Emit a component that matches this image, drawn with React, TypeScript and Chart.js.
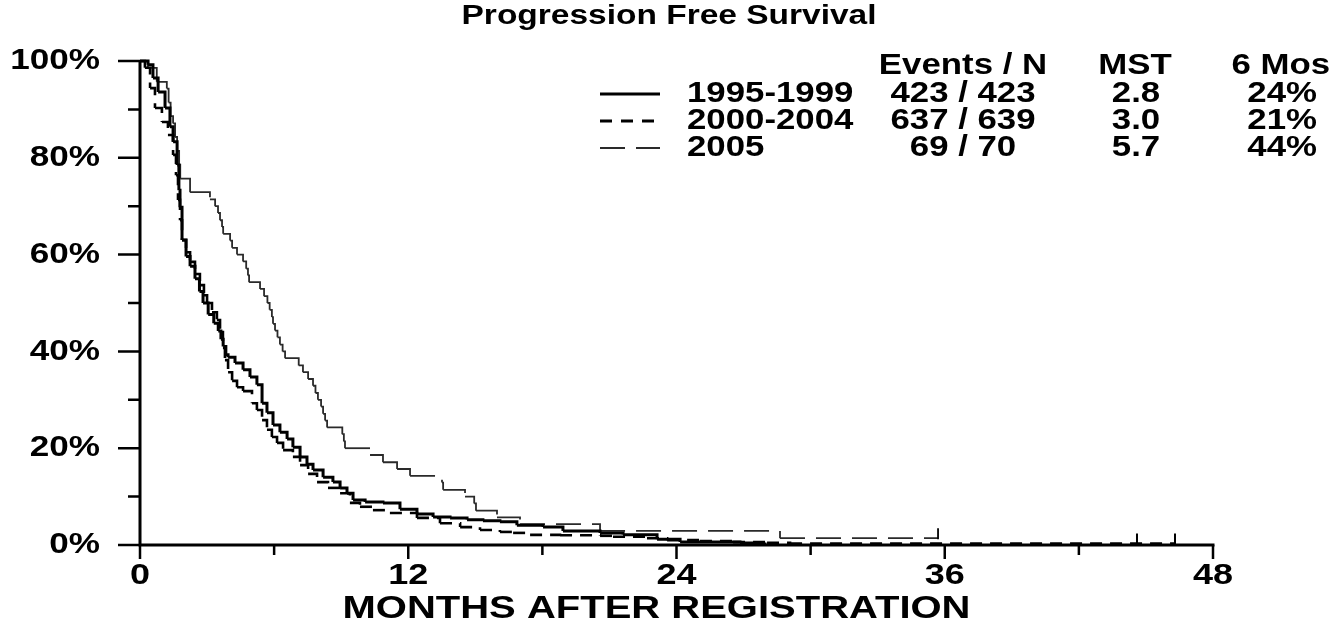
import React, { useEffect, useRef } from 'react';
import { Chart, registerables } from 'chart.js';

Chart.register(...registerables);

// ---------- data ----------
const chartTitle = 'Progression Free Survival';
const xAxisTitle = 'MONTHS AFTER REGISTRATION';

const seriesNames = ['1995-1999', '2000-2004', '2005'];
const tableHeaders = ['Events / N', 'MST', '6 Mos'];
const eventsN = ['423 / 423', '637 / 639', '69 / 70'];
const mstValues = ['2.8', '3.0', '5.7'];
const sixMonthValues = ['24%', '21%', '44%'];

const xTickValues = [0, 12, 24, 36, 48];
const xTickLabels = ['0', '12', '24', '36', '48'];
const xMinorTicks = [6, 18, 30, 42];
const yTickValues = [0, 20, 40, 60, 80, 100];
const yTickLabels = ['0%', '20%', '40%', '60%', '80%', '100%'];
const yMinorTicks = [10, 30, 50, 70, 90];

const months1995 = [0, 0.36, 0.58, 0.81, 1.12, 1.34, 1.48, 1.66, 1.74, 1.79, 1.88, 2.06, 2.24, 2.46, 2.66, 2.82, 3.05, 3.30, 3.50, 3.62, 3.72, 3.84, 3.94, 4.25, 4.61, 4.92, 5.23, 5.46, 5.68, 5.95, 6.26, 6.58, 6.84, 7.16, 7.47, 7.74, 8.19, 8.63, 8.95, 9.26, 9.53, 10.07, 10.87, 11.63, 12.39, 13.11, 13.87, 14.63, 15.34, 16.10, 16.86, 18.03, 18.92, 20.58, 21.61, 23.13, 24.16, 26.84, 27.74, 27.96];
const surv1995 = [100, 99.2, 96.5, 93.6, 90.3, 86.4, 83.3, 78.5, 73.3, 69.8, 63.0, 59.6, 57.6, 55.0, 52.4, 50.0, 47.6, 45.8, 44.2, 42.5, 41.0, 39.3, 38.8, 37.6, 36.2, 34.7, 33.1, 29.3, 27.3, 24.8, 23.3, 21.9, 20.2, 18.2, 16.7, 15.5, 14.0, 13.0, 11.8, 10.7, 9.3, 8.9, 8.7, 7.4, 6.4, 5.8, 5.6, 5.2, 5.0, 4.8, 4.1, 3.7, 2.9, 2.5, 2.1, 1.2, 0.6, 0.4, 0.2, 0];

const months2000 = [0, 0.22, 0.45, 0.67, 0.98, 1.25, 1.48, 1.61, 1.70, 1.79, 1.88, 2.06, 2.24, 2.46, 2.68, 2.86, 3.00, 3.22, 3.44, 3.58, 3.71, 3.80, 3.94, 4.12, 4.34, 4.61, 5.01, 5.23, 5.46, 5.68, 5.90, 6.13, 6.40, 6.84, 7.16, 7.52, 7.92, 8.41, 8.95, 9.39, 9.84, 10.42, 11.18, 12.39, 13.42, 14.32, 15.21, 16.10, 16.69, 17.45, 18.79, 20.58, 21.16, 22.68, 23.58, 25.05, 26.53, 28.05, 29.08, 46.3];
const surv2000 = [100, 98.6, 94.4, 90.3, 87.4, 84.7, 80.6, 76.4, 71.3, 67.1, 63.0, 60.5, 58.5, 56.0, 53.7, 51.6, 50.0, 48.1, 46.5, 44.0, 40.7, 38.2, 35.7, 33.9, 32.6, 31.8, 29.3, 27.9, 25.8, 23.8, 22.3, 21.1, 19.6, 18.2, 16.5, 14.7, 13.0, 11.8, 10.7, 8.7, 7.9, 7.2, 6.6, 5.6, 4.5, 3.7, 3.1, 2.7, 2.5, 2.1, 2.0, 1.9, 1.7, 1.4, 1.0, 0.8, 0.6, 0.47, 0.31, 0.31];

const months2005 = [0, 0.35, 0.75, 1.20, 1.28, 1.37, 1.48, 1.57, 1.66, 1.75, 1.80, 2.24, 3.13, 3.36, 3.49, 3.58, 3.67, 3.72, 4.03, 4.12, 4.34, 4.61, 4.75, 4.83, 4.88, 5.37, 5.55, 5.70, 5.80, 5.90, 5.95, 6.04, 6.15, 6.26, 6.38, 6.49, 7.10, 7.29, 7.52, 7.74, 7.85, 7.96, 8.10, 8.19, 8.28, 8.37, 9.05, 9.12, 9.17, 10.29, 10.87, 11.50, 12.08, 13.51, 13.56, 14.54, 14.95, 15.03, 15.97, 17.00, 20.58, 28.63, 35.70];
const surv2005 = [100, 98.6, 95.7, 94.3, 91.4, 88.6, 87.1, 84.3, 81.4, 78.6, 75.7, 72.9, 71.4, 70.0, 68.6, 67.1, 65.7, 64.3, 62.9, 61.4, 60.0, 58.6, 57.1, 55.7, 54.3, 52.9, 51.4, 50.0, 48.6, 47.1, 45.7, 44.3, 42.9, 41.4, 40.0, 38.6, 37.1, 35.7, 34.3, 32.9, 31.4, 30.0, 28.6, 27.1, 25.7, 24.3, 22.9, 21.4, 20.0, 18.6, 17.1, 15.7, 14.3, 12.9, 11.4, 10.0, 8.6, 7.1, 5.7, 4.3, 2.9, 1.4, 1.4];

const censorMonths2000 = [44.6, 46.3];
const censorSurv2000 = [0.31, 0.31];
const censorMonths2005 = [35.7];
const censorSurv2005 = [1.4];

// ---------- styles ----------
const FONT = '"Liberation Sans", Arial, Helvetica, sans-serif';
const lineStyles = [
  { width: 3, dash: [] as number[], color: '#000000', legendWidth: 3 },
  { width: 2.6, dash: [12, 8], color: '#000000', legendWidth: 3 },
  { width: 1.8, dash: [25, 11], color: '#2a2a2a', legendWidth: 2 },
];

function toPoints(xs: number[], ys: number[]) {
  return xs.map((x, i) => ({ x, y: ys[i] }));
}

function stretchText(
  ctx: CanvasRenderingContext2D,
  text: string,
  x: number,
  y: number,
  size: number,
  sx: number,
  align: CanvasTextAlign
) {
  ctx.save();
  ctx.translate(x, y);
  ctx.scale(sx, 1);
  ctx.font = `bold ${size}px ${FONT}`;
  ctx.textAlign = align;
  ctx.textBaseline = 'middle';
  ctx.fillStyle = '#000';
  ctx.fillText(text, 0, 0);
  ctx.restore();
}

const decorPlugin = {
  id: 'survDecor',
  beforeDatasetsDraw(chart: any) {
    const { ctx, chartArea, scales } = chart;
    const xs = scales.x;
    const ys = scales.y;
    ctx.save();
    ctx.strokeStyle = '#000';
    ctx.lineCap = 'butt';
    ctx.lineWidth = 3;
    ctx.setLineDash([]);
    ctx.beginPath();
    ctx.moveTo(chartArea.left, ys.getPixelForValue(100));
    ctx.lineTo(chartArea.left, ys.getPixelForValue(0) + 1.5);
    ctx.moveTo(xs.getPixelForValue(0), ys.getPixelForValue(0));
    ctx.lineTo(xs.getPixelForValue(48) + 1.5, ys.getPixelForValue(0));
    ctx.stroke();
    ctx.lineWidth = 2.5;
    ctx.beginPath();
    yTickValues.forEach((v) => {
      const py = ys.getPixelForValue(v);
      ctx.moveTo(chartArea.left - 22, py);
      ctx.lineTo(chartArea.left, py);
    });
    yMinorTicks.forEach((v) => {
      const py = ys.getPixelForValue(v);
      ctx.moveTo(chartArea.left - 12, py);
      ctx.lineTo(chartArea.left, py);
    });
    const base = ys.getPixelForValue(0);
    xTickValues.forEach((v) => {
      const px = xs.getPixelForValue(v);
      ctx.moveTo(px, base);
      ctx.lineTo(px, base + 14);
    });
    xMinorTicks.forEach((v) => {
      const px = xs.getPixelForValue(v);
      ctx.moveTo(px, base);
      ctx.lineTo(px, base + 10);
    });
    ctx.stroke();
    ctx.restore();
  },
  afterDraw(chart: any) {
    const { ctx, chartArea, scales } = chart;
    const xs = scales.x;
    const ys = scales.y;
    ctx.save();
    ctx.strokeStyle = '#000';
    ctx.setLineDash([]);
    const drawCensor = (ms: number[], ss: number[], w: number) => {
      ctx.lineWidth = w;
      ctx.beginPath();
      ms.forEach((m, i) => {
        const px = xs.getPixelForValue(m);
        const py = ys.getPixelForValue(ss[i]);
        ctx.moveTo(px, py + 1);
        ctx.lineTo(px, py - 10);
      });
      ctx.stroke();
    };
    drawCensor(censorMonths2000, censorSurv2000, 2);
    drawCensor(censorMonths2005, censorSurv2005, 1.8);

    yTickValues.forEach((v, i) => {
      stretchText(ctx, yTickLabels[i], chartArea.left - 40, ys.getPixelForValue(v), 30, 1.17, 'right');
    });
    xTickValues.forEach((v, i) => {
      stretchText(ctx, xTickLabels[i], xs.getPixelForValue(v), chartArea.bottom + 31, 30, 1.2, 'center');
    });
    stretchText(ctx, xAxisTitle, (chartArea.left + chartArea.right) / 2 - 20, chartArea.bottom + 64, 31, 1.29, 'center');
    stretchText(ctx, chartTitle, 669, 17, 27, 1.24, 'center');

    const headY = 66;
    const rowY = [94, 121, 148];
    stretchText(ctx, tableHeaders[0], 963, headY, 29, 1.2, 'center');
    stretchText(ctx, tableHeaders[1], 1135, headY, 29, 1.2, 'center');
    stretchText(ctx, tableHeaders[2], 1330, headY, 29, 1.2, 'right');
    seriesNames.forEach((name, i) => {
      const st = lineStyles[i];
      ctx.save();
      ctx.strokeStyle = st.color;
      ctx.lineWidth = st.legendWidth;
      ctx.setLineDash(i === 1 ? [12, 9] : st.dash);
      ctx.beginPath();
      ctx.moveTo(600, rowY[i]);
      ctx.lineTo(660, rowY[i]);
      ctx.stroke();
      ctx.restore();
      stretchText(ctx, name, 687, rowY[i], 29, 1.2, 'left');
      stretchText(ctx, eventsN[i], 963, rowY[i], 29, 1.2, 'center');
      stretchText(ctx, mstValues[i], 1136, rowY[i], 29, 1.2, 'center');
      stretchText(ctx, sixMonthValues[i], 1317, rowY[i], 29, 1.2, 'right');
    });
    ctx.restore();
  },
};

export default function App() {
  const ref = useRef<HTMLCanvasElement>(null);
  useEffect(() => {
    const canvas = ref.current;
    if (!canvas) return;
    const datasets = [
      { label: seriesNames[0], data: toPoints(months1995, surv1995) },
      { label: seriesNames[1], data: toPoints(months2000, surv2000) },
      { label: seriesNames[2], data: toPoints(months2005, surv2005) },
    ].map((d, i) => ({
      ...d,
      stepped: true as const,
      borderColor: lineStyles[i].color,
      borderWidth: lineStyles[i].width,
      borderDash: lineStyles[i].dash,
      pointRadius: 0,
      fill: false,
      clip: false as const,
      borderCapStyle: 'butt' as const,
      borderJoinStyle: 'miter' as const,
      // restart the dash pattern on every step, like the plotter did
      segment: {
        borderDashOffset: (c: any) => (c.p0DataIndex % 2 ? 0.01 : 0),
      },
    }));
    const chart = new Chart(canvas, {
      type: 'line',
      data: { datasets: datasets as any },
      options: {
        responsive: false,
        animation: false,
        parsing: false as any,
        layout: { padding: { left: 140, right: 129, top: 61, bottom: 85 } },
        scales: {
          x: { type: 'linear', min: 0, max: 48, display: false },
          y: { type: 'linear', min: 0, max: 100, display: false },
        },
        plugins: {
          legend: { display: false },
          title: { display: false },
          tooltip: { enabled: false },
        },
        events: [],
      },
      plugins: [decorPlugin],
    });
    return () => chart.destroy();
  }, []);
  return (
    <div style={{ position: 'fixed', left: 0, top: 0, width: 1342, height: 630, background: '#fff' }}>
      <canvas ref={ref} width={1342} height={630} style={{ display: 'block', width: 1342, height: 630 }} />
    </div>
  );
}
